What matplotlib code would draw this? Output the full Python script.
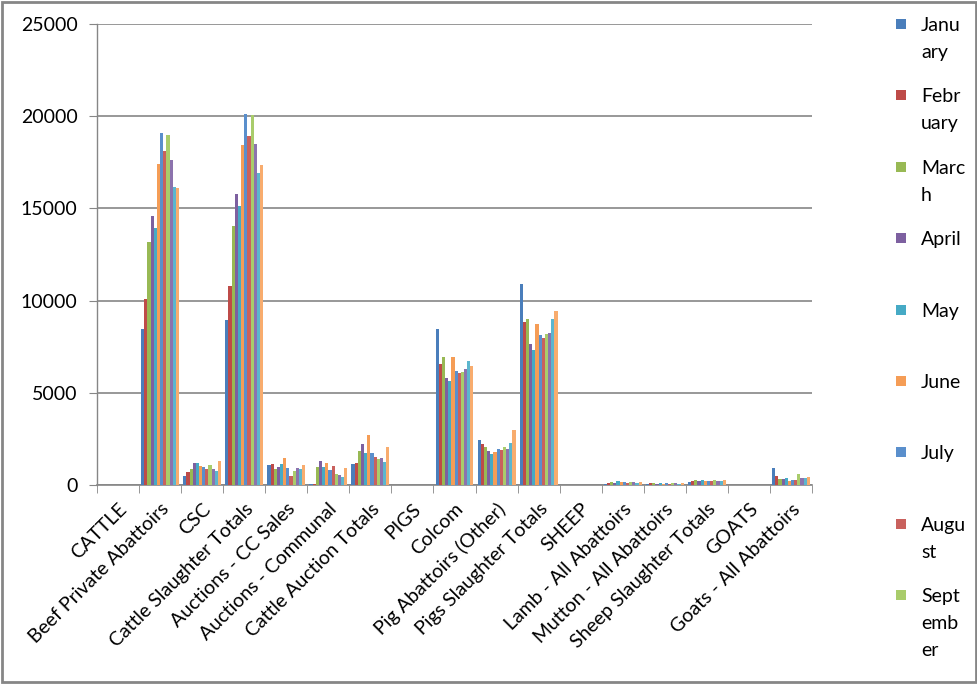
import numpy as np
import matplotlib
matplotlib.use('Agg')
import matplotlib.pyplot as plt
from matplotlib.patches import Rectangle

plt.rcParams['font.family'] = ['Lato', 'DejaVu Sans']

months = ['January', 'February', 'March', 'April', 'May', 'June',
          'July', 'August', 'September', 'October', 'November', 'December']
# wrapped legend text as it shows in the chart (last three are cut off)
legend_text = ['Janu\nary', 'Febr\nuary', 'Marc\nh', 'April', 'May', 'June',
               'July', 'Augu\nst', 'Sept\nemb\ner']

categories = ['CATTLE', 'Beef Private Abattoirs', 'CSC', 'Cattle Slaughter Totals',
              'Auctions - CC Sales', 'Auctions - Communal', 'Cattle Auction Totals',
              'PIGS', 'Colcom', 'Pig Abattoirs (Other)', 'Pigs Slaughter Totals',
              'SHEEP', 'Lamb - All Abattoirs', 'Mutton - All Abattoirs',
              'Sheep Slaughter Totals', 'GOATS', 'Goats - All Abattoirs']

# values per category, January..December
empty = [0] * 12
beef = [8460, 10090, 13190, 14590, 13950, 17410, 19100, 18110, 19000, 17630, 16160, 16120]
csc = [505, 720, 870, 1190, 1190, 1050, 1000, 850, 1080, 850, 780, 1300]
cattle_tot = [8964, 10808, 14062, 15781, 15130, 18455, 20119, 18943, 20065, 18510, 16937, 17354]
cc_sales = [1085, 1140, 890, 980, 1140, 1460, 920, 490, 760, 920, 850, 1085]
communal = [40, 55, 980, 1300, 980, 1190, 800, 1030, 600, 540, 430, 920]
auction_tot = [1157, 1193, 1844, 2223, 1735, 2711, 1735, 1518, 1410, 1464, 1265, 2061]
colcom = [8460, 6560, 6925, 5800, 5640, 6925, 6180, 6060, 6145, 6270, 6725, 6450]
pig_other = [2440, 2220, 2060, 1830, 1680, 1770, 1950, 1880, 2060, 1950, 2280, 3000]
pig_tot = [10900, 8856, 9002, 7647, 7321, 8731, 8135, 7955, 8189, 8260, 9002, 9452]
lamb = [80, 130, 160, 120, 200, 150, 140, 130, 160, 150, 120, 160]
mutton = [60, 90, 100, 80, 90, 80, 100, 80, 120, 90, 80, 100]
sheep_tot = [140, 220, 260, 200, 290, 230, 240, 210, 280, 240, 200, 260]
goats = [922, 488, 325, 325, 380, 217, 271, 271, 597, 380, 380, 434]

data = np.array([empty, beef, csc, cattle_tot, cc_sales, communal, auction_tot,
                 empty, colcom, pig_other, pig_tot,
                 empty, lamb, mutton, sheep_tot, empty, goats])

colors = ['#4A7EBB', '#BE4B48', '#98B954', '#7D60A0', '#46AAC5', '#F59D56',
          '#5A8FCC', '#C9615D', '#A9CC6B', '#8C73AD', '#5CB6CE', '#F8AC6E']

fig = plt.figure(figsize=(9.78, 6.84), dpi=100)
ax = fig.add_axes([0.0992, 0.2909, 0.7311, 0.674])

n = len(categories)
x = np.arange(n)
w = 0.9 / 12
bars = []
for i in range(12):
    b = ax.bar(x - 0.45 + w * (i + 0.5), data[:, i], width=w, color=colors[i],
               label=months[i], zorder=3)
    bars.append(b)

ax.set_xlim(-0.5, n - 0.5)
ax.set_ylim(0, 25000)
ax.set_yticks(np.arange(0, 25001, 5000))
ax.grid(axis='y', color='#868686', lw=1.2, zorder=0)

for s in ['top', 'right']:
    ax.spines[s].set_visible(False)
ax.spines['left'].set_color('#868686')
ax.spines['bottom'].set_color('#868686')
ax.spines['left'].set_linewidth(1)
ax.spines['bottom'].set_linewidth(1.2)

ax.tick_params(axis='y', labelsize=14, length=6, color='#868686', pad=8)
ax.set_xticks(x)
ax.set_xticklabels(categories, rotation=45, ha='right', rotation_mode='anchor',
                   fontsize=14)
ax.tick_params(axis='x', which='major', length=0, pad=11)
ax.set_xticks(np.arange(-0.5, n, 1.0), minor=True)
ax.tick_params(axis='x', which='minor', length=6, color='#868686')

# legend, drawn slot by slot like the cut-off Excel legend
for i, txt in enumerate(legend_text):
    yc = 24 + 71.4 * i  # pixel row of the first line
    fig.add_artist(Rectangle((896 / 978, 1 - (yc + 5) / 684), 10 / 978, 10 / 684,
                             transform=fig.transFigure,
                             facecolor=bars[i].patches[0].get_facecolor(),
                             edgecolor='none'))
    fig.text(921 / 978, 1 - (yc - 7) / 684, txt, fontsize=14, va='top', ha='left',
             linespacing=1.7, color='#000000')

fig.add_artist(Rectangle((0.002, 0.003), 0.996, 0.994, transform=fig.transFigure,
                         fill=False, edgecolor='#868686', lw=2))

fig.savefig('out.png', dpi=100)
